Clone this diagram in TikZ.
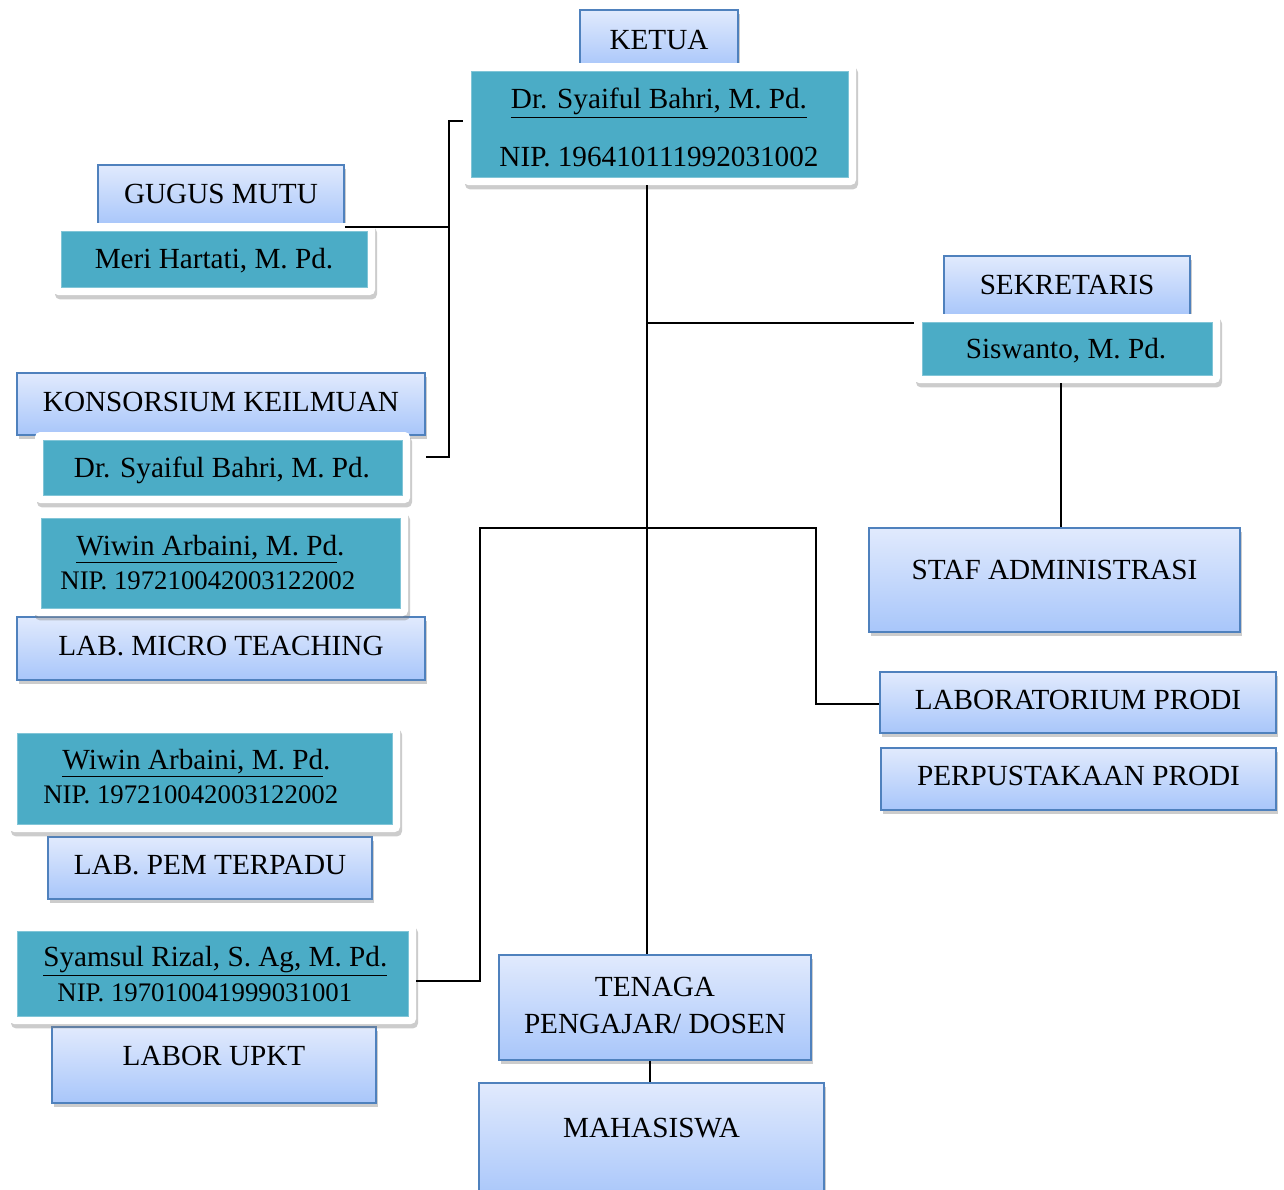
\documentclass[tikz,border=0pt]{standalone}
\usepackage{fontspec}
\setmainfont{Liberation Serif}
\usetikzlibrary{shadows}
\definecolor{tealfill}{HTML}{4BACC6}
\definecolor{bord}{HTML}{4F81BD}
\definecolor{gtop}{HTML}{E1EAFD}
\definecolor{gbot}{HTML}{A8C6FA}
\tikzset{
 sz/.style 2 args={minimum width=#1*0.5pt, minimum height=#2*0.5pt, inner sep=0pt},
 bluebox/.style={draw=bord, line width=0.8pt, top color=gtop, bottom color=gbot,
   drop shadow={shadow xshift=1pt,shadow yshift=-2.2pt,opacity=0.4}},
 framebox/.style={fill=white, rounded corners=2.5pt,
   drop shadow={shadow xshift=1pt,shadow yshift=-2.2pt,opacity=0.4}},
 tealbox/.style={fill=tealfill, draw=tealfill!70!white, line width=0.4pt},
 txt/.style={font=\fontsize{14.6pt}{17pt}\selectfont, inner sep=0pt, anchor=mid, yshift=-1.5pt},
 txtw/.style={font=\fontsize{14.6pt}{17pt}\selectfont, inner sep=0pt, anchor=mid west, yshift=-1.5pt},
 small/.style={font=\fontsize{13.4pt}{16pt}\selectfont, inner sep=0pt, anchor=mid west, yshift=-1.5pt},
 link/.style={line width=1pt, black},
}
\newcommand{\ul}[1]{\underline{#1}}
\begin{document}
\begin{tikzpicture}[x=0.5pt,y=-0.5pt]
\fill[white] (0,0) rectangle (1284,1189);
\useasboundingbox (0,0) rectangle (1284,1189);

% light blue boxes
\node[bluebox, sz={158}{58}] (ketuaT) at (659,39) {};
\node[txt] (tKetua) at (659,42) {KETUA};
\node[bluebox, sz={246}{60}] (gugus) at (221,195) {};
\node[txt] (tGugus) at (221,196) {GUGUS MUTU};
\node[bluebox, sz={408}{62}] (kons) at (221,404) {};
\node[txt] (tKons) at (221,404) {KONSORSIUM KEILMUAN};
\node[bluebox, sz={408}{63}] (micro) at (221,648.5) {};
\node[txt] (tMicro) at (221,648) {LAB. MICRO TEACHING};
\node[bluebox, sz={324}{62}] (pem) at (210,868) {};
\node[txt] (tPem) at (210,867) {LAB. PEM TERPADU};
\node[bluebox, sz={324}{76}] (upkt) at (214,1065) {};
\node[txt] (tUpkt) at (214,1058) {LABOR UPKT};
\node[bluebox, sz={246}{60}] (sekT) at (1067,286) {};
\node[txt] (tSek) at (1067,287) {SEKRETARIS};
\node[bluebox, sz={371}{104}] (staf) at (1054.5,580) {};
\node[txt] (tStaf) at (1054.5,572) {STAF ADMINISTRASI};
\node[bluebox, sz={396}{61}] (labprodi) at (1078,702.5) {};
\node[txt] (tLab) at (1078,702) {LABORATORIUM PRODI};
\node[bluebox, sz={395}{62}] (perpus) at (1078.5,779) {};
\node[txt] (tPerpus) at (1078.5,778) {PERPUSTAKAAN PRODI};
\node[bluebox, sz={312}{105}] (tenaga) at (655,1007.5) {};
\node[font=\fontsize{14.6pt}{18.5pt}\selectfont, inner sep=0pt, align=center] (tTenaga) at (655,1005) {TENAGA\\PENGAJAR/ DOSEN};
\node[bluebox, sz={345}{117}] (maha) at (651.5,1141.5) {};
\node[txt] (tMaha) at (651.5,1130) {MAHASISWA};

% name boxes (white frame + teal)
\node[framebox, sz={393}{122}] (ketuaF) at (659.5,124) {};
\node[tealbox, sz={377}{106}] (ketuaI) at (659.5,124) {};
\node[txt] (nKetua) at (659,101) {\ul{Dr. Syaiful Bahri, M. Pd.}};
\node[txt] (pKetua) at (659,159) {NIP. 196410111992031002};

\node[framebox, sz={322}{72}] (meriF) at (214,259) {};
\node[tealbox, sz={306}{56}] (meriI) at (214,259) {};
\node[txt] (nMeri) at (214,261) {Meri Hartati, M. Pd.};

\node[framebox, sz={375}{71}] (konsF) at (222.5,467.5) {};
\node[tealbox, sz={359}{55}] (konsI) at (222.5,467.5) {};
\node[txt] (nKons) at (222,470) {Dr. Syaiful Bahri, M. Pd.};

\node[framebox, sz={375}{106}] (wiwAF) at (220.5,563) {};
\node[tealbox, sz={359}{90}] (wiwAI) at (220.5,563) {};
\node[txtw] (nWiwA) at (76,548) {\ul{Wiwin Arbaini, M. Pd}.};
\node[small] (pWiwA) at (60,582) {NIP. 197210042003122002};

\node[framebox, sz={391}{107}] (wiwBF) at (204.5,778.5) {};
\node[tealbox, sz={375}{91}] (wiwBI) at (204.5,778.5) {};
\node[txtw] (nWiwB) at (62,762) {\ul{Wiwin Arbaini, M. Pd}.};
\node[small] (pWiwB) at (43,796) {NIP. 197210042003122002};

\node[framebox, sz={407}{101}] (syF) at (212.5,973.5) {};
\node[tealbox, sz={391}{85}] (syI) at (212.5,973.5) {};
\node[txtw] (nSy) at (43,959) {\ul{Syamsul Rizal, S. Ag, M. Pd.}};
\node[small] (pSy) at (57,994) {NIP. 197010041999031001};

\node[framebox, sz={306}{69}] (sisF) at (1067,348.5) {};
\node[tealbox, sz={290}{53}] (sisI) at (1067,348.5) {};
\node[txt] (nSis) at (1066,351) {Siswanto, M. Pd.};

% connectors
\coordinate (tx) at (647,0);
\draw[link] (ketuaF.south -| tx) -- (tenaga.north -| tx);
\coordinate (sekj) at (914,323);
\draw[link] (tx |- sekj) -- (sekj);
\coordinate (sx) at (1061,0);
\draw[link] (sisF.south -| sx) -- (staf.north -| sx);
\coordinate (b1) at (449,121);
\coordinate (b2) at (449,457);
\draw[link] (ketuaF.west |- b1) -- (b1) -- (b2) -- (kons.east |- b2);
\coordinate (g1) at (449,227);
\draw[link] (gugus.east |- g1) -- (g1);
\coordinate (c1) at (480,528);
\coordinate (c2) at (816,528);
\coordinate (c3) at (816,704);
\coordinate (c4) at (480,981);
\draw[link] (syF.east |- c4) -- (c4) -- (c1) -- (c2) -- (c3) -- (labprodi.west |- c3);
\coordinate (mx) at (650,0);
\draw[link] (tenaga.south -| mx) -- (maha.north -| mx);
\end{tikzpicture}
\end{document}
